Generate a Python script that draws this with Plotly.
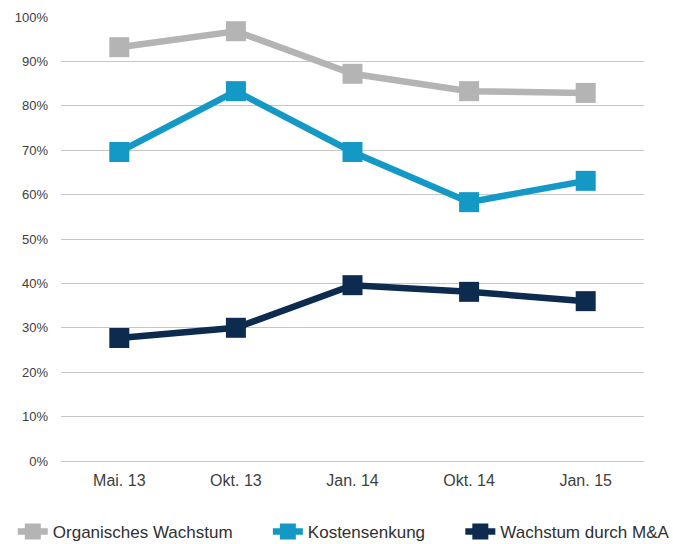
import plotly.graph_objects as go

# Survey dates (x categories)
dates = ["Mai. 13", "Okt. 13", "Jan. 14", "Okt. 14", "Jan. 15"]

# Share of respondents per strategy, in percent
organisch = [93.2, 96.8, 87.2, 83.3, 82.9]
kosten = [69.6, 83.3, 69.6, 58.3, 63.1]
m_und_a = [27.7, 30.0, 39.6, 38.1, 36.0]

# Y axis ticks
y_ticks = [0, 10, 20, 30, 40, 50, 60, 70, 80, 90, 100]
y_tick_labels = [f"{v}%" for v in y_ticks]

# name, values, colour, legend id, legend left edge (fraction of page width)
series = [
    ("Organisches Wachstum", organisch, "#b4b4b4", "legend", 0.019),
    ("Kostensenkung", kosten, "#1499c6", "legend2", 0.398),
    ("Wachstum durch M&A", m_und_a, "#0d2a4f", "legend3", 0.684),
]

fig = go.Figure()
legend_layout = {}
for name, values, color, legend_id, lx in series:
    fig.add_trace(go.Scatter(
        x=dates,
        y=values,
        name=name,
        mode="lines+markers",
        line=dict(color=color, width=6.5),
        marker=dict(symbol="square", size=20, color=color),
        legend=legend_id,
    ))
    legend_layout[legend_id] = dict(
        orientation="h",
        xref="container",
        yref="container",
        x=lx,
        xanchor="left",
        y=0.022,
        yanchor="middle",
        font=dict(size=17, color="#303030"),
        itemwidth=30,
        bgcolor="rgba(0,0,0,0)",
    )

fig.update_layout(
    width=673,
    height=544,
    margin=dict(l=61, r=29, t=17, b=83, autoexpand=False),
    paper_bgcolor="white",
    plot_bgcolor="white",
    font=dict(family="Liberation Sans, Arial, sans-serif", color="#404040"),
    showlegend=True,
    xaxis=dict(
        showgrid=False,
        showline=False,
        ticks="",
        ticklabelstandoff=8,
        tickfont=dict(size=16, color="#404040"),
        range=[-0.5, 4.5],
    ),
    yaxis=dict(
        range=[0, 100],
        tickmode="array",
        tickvals=y_ticks,
        ticktext=y_tick_labels,
        showgrid=True,
        gridcolor="#c6c6c6",
        gridwidth=1,
        zeroline=True,
        zerolinecolor="#c6c6c6",
        zerolinewidth=1,
        showline=False,
        ticks="",
        ticklabelstandoff=12,
        tickfont=dict(size=13, color="#404040"),
    ),
    **legend_layout,
)

fig.write_html("out.html")
